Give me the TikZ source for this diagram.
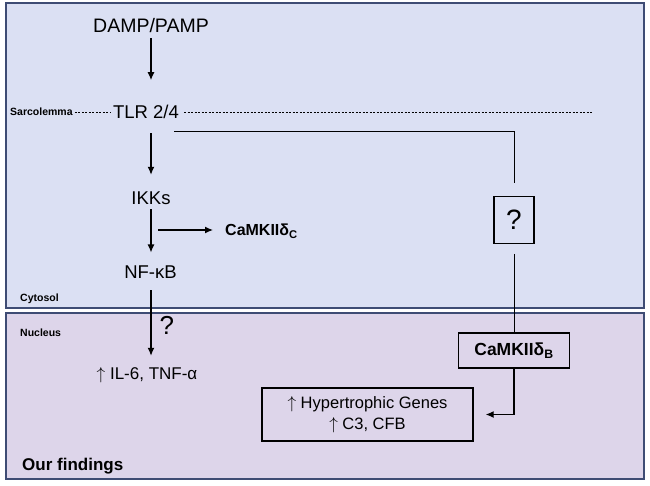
\documentclass[tikz,border=0pt]{standalone}
\usepackage{fontspec}
\setmainfont{Liberation Sans}
\usetikzlibrary{arrows.meta}
\definecolor{cytofill}{HTML}{DBE0F3}
\definecolor{nucfill}{HTML}{DDD5EA}
\definecolor{panelline}{HTML}{3E4C74}
\newcommand{\upreg}{$\uparrow$}
\tikzset{
  arr/.style={-{Latex[length=8pt,width=7pt]}, line width=1.3pt},
  lbl/.style={inner sep=0pt, text height=13.2pt, text depth=0pt, font=\fontsize{18.5}{20}\selectfont},
  tag/.style={inner sep=0pt, anchor=base west, font=\fontsize{10.5}{12}\selectfont\bfseries},
  kbox/.style={draw, line width=1.3pt, inner sep=0pt},
  membrane/.style={dash pattern=on 2pt off 1.5pt, line width=0.6pt}
}
\begin{document}
\begin{tikzpicture}[x=1pt,y=-1pt]
  \useasboundingbox (0,0) rectangle (650,486);
  \filldraw [fill=cytofill,draw=panelline,line width=1.6pt] (6, 3) rectangle (644, 308);
  \filldraw [fill=nucfill,draw=panelline,line width=1.6pt] (6, 313) rectangle (644, 479);
  % compartment tags
  \node [tag] (sarc) at (10, 116) {Sarcolemma};
  \node [tag] (cyto) at (20, 301) {Cytosol};
  \node [tag] (nuc) at (20, 336) {Nucleus};
  \node [tag, font=\fontsize{17}{20}\selectfont\bfseries] (ours) at (22, 470) {Our findings};
  % pathway
  \node [lbl, text height=14pt, font=\fontsize{19.5}{22}\selectfont] (damp) at (151, 26) {DAMP/PAMP};
  \node [lbl] (tlr) at (146, 112) {TLR 2/4};
  \node [lbl] (ikks) at (151, 197.5) {IKKs};
  \node [lbl] (nfkb) at (150.5, 272) {NF-κB};
  \node [lbl, text height=12.2pt, font=\fontsize{17}{19}\selectfont] (il6) at (147, 373.5) {\upreg\ IL-6, TNF-α};
  \node [inner sep=0pt, anchor=base west, font=\fontsize{16}{18}\selectfont\bfseries] (camkc) at (225, 235.5) {CaMKIIδ\textsubscript{C}};
  \node [kbox, minimum width=40pt, minimum height=46.5pt, font=\fontsize{28}{30}\selectfont] (qbox) at (514, 220) {?};
  \node [kbox, minimum width=111pt, minimum height=35pt, font=\fontsize{17.5}{19}\selectfont\bfseries] (camkb) at (514, 350.5) {CaMKIIδ\textsubscript{B}};
  \node [kbox, minimum width=211pt, minimum height=53pt, align=center, font=\fontsize{16.5}{21}\selectfont] (hyper) at (367.5, 414.5) {\upreg\ Hypertrophic Genes\\\upreg\ C3, CFB};
  \coordinate (tlrend) at (592, 112);
  \coordinate (tlrout) at (174, 132);
  \coordinate (ikout) at (158, 230);
  % membrane
  \draw [membrane, shorten <=2pt, shorten >=3pt] (sarc.east |- tlr) -- (tlr.west);
  \draw [membrane, shorten <=5pt] (tlr.east) -- (tlrend);
  % arrows
  \draw [arr, shorten <=5pt, shorten >=25pt] (damp.south) -- (damp.south |- tlr.north);
  \draw [arr, shorten <=14.4pt, shorten >=15.9pt] (tlr.south -| ikks) -- (ikks.north);
  \draw [arr, shorten <=5pt, shorten >=12.7pt] (ikks.south) -- (ikks.south |- nfkb.north);
  \draw [arr, shorten <=11.4pt, shorten >=11.4pt] (nfkb.south -| ikks) -- node [pos=.53, right=8pt, inner sep=0pt, font=\fontsize{26}{28}\selectfont] {?} (ikks |- il6.north);
  \draw [arr, shorten >=12pt] (ikout) -- (ikout -| camkc.west);
  \draw [line width=1pt, shorten >=13.4pt] (tlrout) -| (qbox);
  \draw [line width=1pt, shorten <=10pt] (qbox) -- (camkb);
  \draw [arr, shorten >=12pt] (camkb) |- (hyper);
\end{tikzpicture}
\end{document}
